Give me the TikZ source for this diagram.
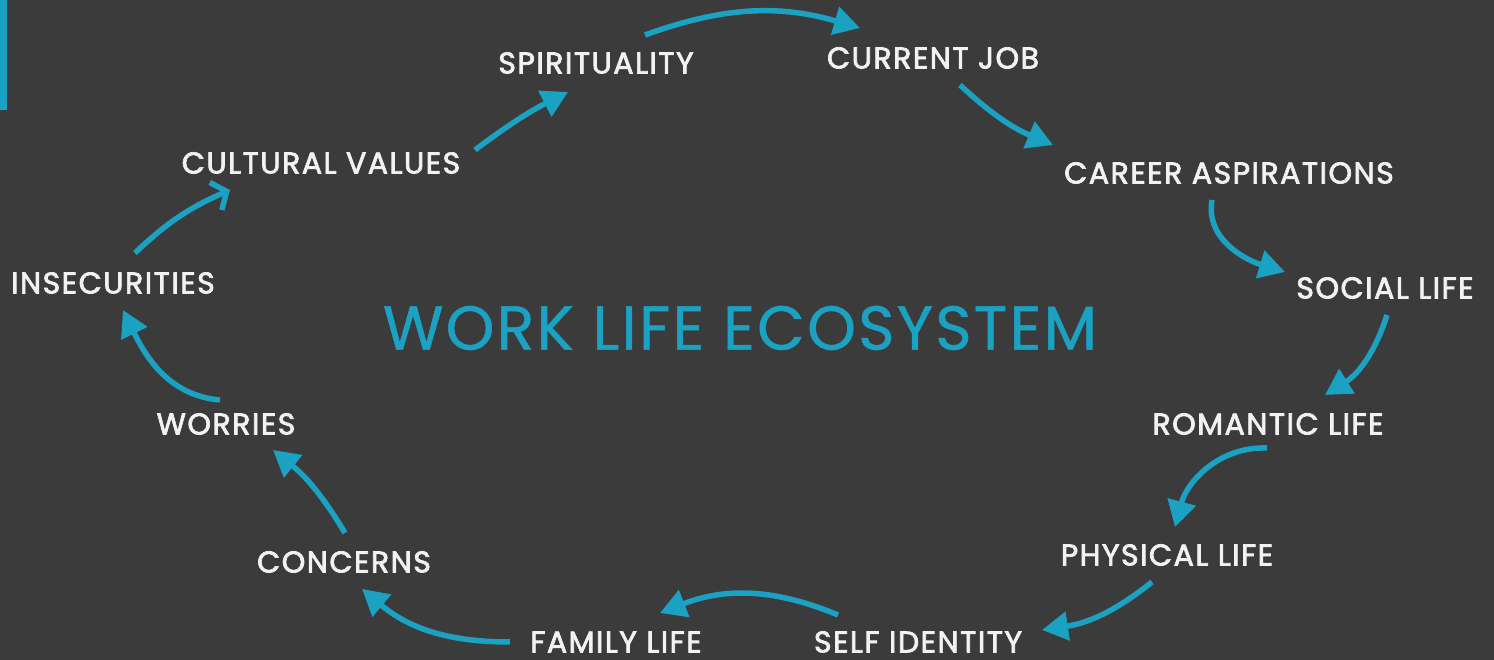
\documentclass[tikz,border=0pt]{standalone}
\usepackage{fontspec}
\setmainfont{Poppins}
\usepackage{tikz}
\usetikzlibrary{arrows.meta}

\definecolor{bgdark}{HTML}{3B3B3B}
\definecolor{ecoblue}{HTML}{1BA1C2}
\definecolor{labelwhite}{HTML}{F2F2F2}

\begin{document}
\begin{tikzpicture}[x=1pt, y=1pt,
        item_label/.style={text=labelwhite, inner sep=0pt, font=\fontsize{30}{33}\selectfont\addfontfeatures{FakeBold=2.4, LetterSpace=5}},
        title_label/.style={text=ecoblue, inner sep=0pt, font=\fontsize{62}{66}\selectfont\addfontfeatures{FakeBold=0.8, LetterSpace=3.6}},
        flow_arrow/.style={draw=ecoblue, line width=5.5pt, -{Triangle[length=26pt, width=28pt]}},
        barb_arrow/.style={draw=ecoblue, line width=5.5pt, -{Straight Barb[length=12pt, width=30pt]}}]

        % Background and accent bar
        \useasboundingbox (0,0) rectangle (1494,660);
        \fill[bgdark] (0,0) rectangle (1494,660);
        \fill[ecoblue] (0,550) rectangle (7,660);

        % Centre title
        \node[title_label] (title) at (740,332) {WORK LIFE ECOSYSTEM};

        % Ring of areas, clockwise from the top
        \node[item_label] (spirit) at (596,597) {SPIRITUALITY};
        \node[item_label] (job) at (933,602) {CURRENT JOB};
        \node[item_label] (career) at (1229,487) {CAREER ASPIRATIONS};
        \node[item_label] (social) at (1385,372) {SOCIAL LIFE};
        \node[item_label] (romantic) at (1268,236) {ROMANTIC LIFE};
        \node[item_label] (physical) at (1167,105) {PHYSICAL LIFE};
        \node[item_label] (selfid) at (918,18) {SELF IDENTITY};
        \node[item_label] (family) at (616,18) {FAMILY LIFE};
        \node[item_label] (concerns) at (344,98) {CONCERNS};
        \node[item_label] (worries) at (226,236) {WORRIES};
        \node[item_label] (insec) at (113,377) {INSECURITIES};
        \node[item_label] (cultural) at (321,497) {CULTURAL VALUES};

        % Curved connectors
        \draw[flow_arrow] ([shift={(154,13)}]cultural.center) to[bend left=5] ([shift={(-28,-29)}]spirit.center);
        \draw[flow_arrow] ([shift={(49,28)}]spirit.center) to[bend left=18] ([shift={(-73,30)}]job.center);
        \draw[flow_arrow] ([shift={(27,-27)}]job.center) to[bend right=10] ([shift={(-176,28)}]career.center);
        \draw[flow_arrow] ([shift={(-17,-27)}]career.center) to[out=-100, in=163] ([shift={(-100,16)}]social.center);
        \draw[flow_arrow] ([shift={(2,-27)}]social.center) to[bend left=20] ([shift={(57,29)}]romantic.center);
        \draw[flow_arrow] ([shift={(-1,-24)}]romantic.center) to[out=178, in=75] ([shift={(8,28)}]physical.center);
        \draw[flow_arrow] ([shift={(-15,-27)}]physical.center) to[bend left=15] ([shift={(124,12)}]selfid.center);
        \draw[flow_arrow] ([shift={(-80,27)}]selfid.center) to[bend right=22] ([shift={(44,29)}]family.center);
        \draw[flow_arrow] ([shift={(-106,0)}]family.center) to[out=180, in=-40] ([shift={(18,-27)}]concerns.center);
        \draw[flow_arrow] ([shift={(1,29)}]concerns.center) to[bend right=10] ([shift={(47,-26)}]worries.center);
        \draw[flow_arrow] ([shift={(-6,24)}]worries.center) to[out=175, in=-64] ([shift={(10,-27)}]insec.center);
        \draw[barb_arrow] ([shift={(22,30)}]insec.center) to[bend left=10] ([shift={(-91,-27)}]cultural.center);
\end{tikzpicture}
\end{document}
